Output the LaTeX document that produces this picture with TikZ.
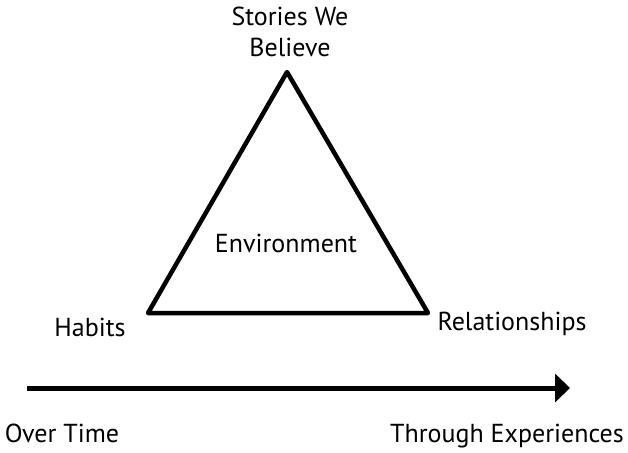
\documentclass[tikz,border=0pt]{standalone}
\usepackage{fontspec}
\setmainfont{PT Sans}
\usetikzlibrary{arrows.meta}
\begin{document}
\begin{tikzpicture}[x=1pt,y=-1pt,font=\fontsize{26}{31}\selectfont, line join=round,>={Triangle[length=15pt,width=28pt]}]
			\useasboundingbox (0,0) rectangle (628,452);
			\coordinate (top) at (287,72);
			\coordinate (left) at (148,313);
			\coordinate (right) at (428,313);
			\draw[line width=4.5pt] (top)--(left)--(right)--cycle;
			\node[align=center] (stories) at (290,32) {Stories We\\Believe};
			\node (env) at (286,243) {Environment};
			\node (habits) at (90,327) {Habits};
			\node (rel) at (512,324) {Relationships};
			% time line
			\coordinate (start) at (27,388);
			\coordinate (finish) at (570,388);
			\draw[->,line width=5pt] (start)--(finish);
			\node (time) at (62,433) {Over Time};
			\node (exp) at (507,436) {Through Experiences};
		\end{tikzpicture}
\end{document}
